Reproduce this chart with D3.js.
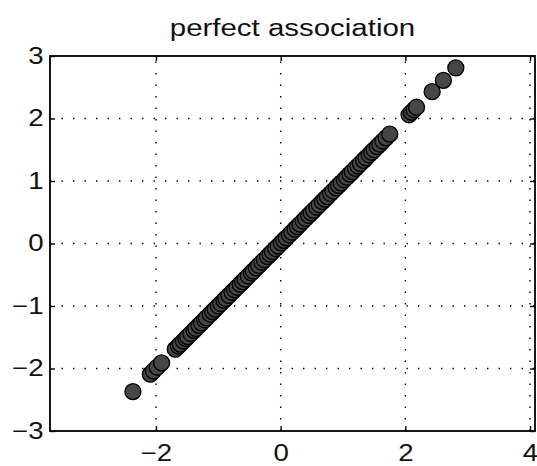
<!DOCTYPE html>
<html>
<head>
<meta charset="utf-8">
<script src="https://cdn.jsdelivr.net/npm/d3@7"></script>
<style>
  html, body { margin: 0; padding: 0; background: #fff; }
  svg { display: block; }
  text { font-family: "Liberation Sans", Arial, Helvetica, sans-serif; fill: #111; }
</style>
</head>
<body>
<svg id="chart" width="537" height="466"></svg>
<script>
// Paired observations: y tracks x exactly
const xValues = [
  -2.37, -2.09, -2.04, -1.98, -1.91,
  -1.69, -1.64, -1.61, -1.56, -1.52, -1.49, -1.44, -1.39, -1.36, -1.31,
  -1.27, -1.22, -1.19, -1.13, -1.09, -1.05, -1.00, -0.96, -0.91, -0.88,
  -0.83, -0.78, -0.74, -0.70, -0.65, -0.61, -0.57, -0.52, -0.47, -0.44,
  -0.39, -0.35, -0.30, -0.26, -0.21, -0.17, -0.13, -0.08, -0.04, 0.01,
  0.05, 0.09, 0.14, 0.18, 0.23, 0.27, 0.31, 0.36, 0.40, 0.45,
  0.49, 0.53, 0.58, 0.62, 0.67, 0.71, 0.75, 0.80, 0.84, 0.89,
  0.93, 0.97, 1.02, 1.06, 1.11, 1.15, 1.20, 1.24, 1.28, 1.33,
  1.37, 1.42, 1.46, 1.50, 1.55, 1.59, 1.64, 1.69, 1.75,
  2.06, 2.10, 2.14, 2.18, 2.43, 2.61, 2.81
];
const yValues = [
  -2.37, -2.09, -2.04, -1.98, -1.91,
  -1.69, -1.64, -1.61, -1.56, -1.52, -1.49, -1.44, -1.39, -1.36, -1.31,
  -1.27, -1.22, -1.19, -1.13, -1.09, -1.05, -1.00, -0.96, -0.91, -0.88,
  -0.83, -0.78, -0.74, -0.70, -0.65, -0.61, -0.57, -0.52, -0.47, -0.44,
  -0.39, -0.35, -0.30, -0.26, -0.21, -0.17, -0.13, -0.08, -0.04, 0.01,
  0.05, 0.09, 0.14, 0.18, 0.23, 0.27, 0.31, 0.36, 0.40, 0.45,
  0.49, 0.53, 0.58, 0.62, 0.67, 0.71, 0.75, 0.80, 0.84, 0.89,
  0.93, 0.97, 1.02, 1.06, 1.11, 1.15, 1.20, 1.24, 1.28, 1.33,
  1.37, 1.42, 1.46, 1.50, 1.55, 1.59, 1.64, 1.69, 1.75,
  2.06, 2.10, 2.14, 2.18, 2.43, 2.61, 2.81
];
const xTicks = [-2, 0, 2, 4];
const yTicks = [-3, -2, -1, 0, 1, 2, 3];
const xDomain = [-3.7, 4.08];
const yDomain = [-3, 3];
const title = "perfect association";

const svg = d3.select("#chart");
const plotLeft = 50, plotRight = 535, plotTop = 56, plotBottom = 431;
// lettering is drawn a little wider than the font's natural proportions
const tickStretch = 1.2;
const titleStretch = 1.28;

const x = d3.scaleLinear().domain(xDomain).range([plotLeft, plotRight]);
const y = d3.scaleLinear().domain(yDomain).range([plotBottom, plotTop]);

// dotted grid
const grid = svg.append("g")
  .attr("stroke", "#000")
  .attr("stroke-width", 1.4)
  .attr("stroke-dasharray", "1.4,10.1");
grid.selectAll("line.gx")
  .data(xTicks)
  .join("line")
  .attr("class", "gx")
  .attr("x1", d => x(d)).attr("x2", d => x(d))
  .attr("y1", plotBottom).attr("y2", plotTop);
grid.selectAll("line.gy")
  .data(yTicks.filter(d => d > yDomain[0] && d < yDomain[1]))
  .join("line")
  .attr("class", "gy")
  .attr("x1", plotLeft).attr("x2", plotRight)
  .attr("y1", d => y(d)).attr("y2", d => y(d));

// points
const pts = d3.zip(xValues, yValues);
svg.append("g")
  .selectAll("circle")
  .data(pts)
  .join("circle")
  .attr("cx", d => x(d[0]))
  .attr("cy", d => y(d[1]))
  .attr("r", 8)
  .attr("fill", "#464646")
  .attr("stroke", "#000")
  .attr("stroke-width", 1.3);

// axes with inward ticks
const fontSize = 23;
const minus = d => d < 0 ? "\u2212" + Math.abs(d) : String(d);
const xAxisB = svg.append("g")
  .attr("transform", `translate(0,${plotBottom})`)
  .call(d3.axisBottom(x).tickValues(xTicks).tickSize(-5).tickPadding(14).tickFormat(minus));
const xAxisT = svg.append("g")
  .attr("transform", `translate(0,${plotTop})`)
  .call(d3.axisTop(x).tickValues(xTicks).tickSize(-5).tickFormat(""));
const yAxisL = svg.append("g")
  .attr("transform", `translate(${plotLeft},0)`)
  .call(d3.axisLeft(y).tickValues(yTicks).tickSize(-5).tickPadding(6.5).tickFormat(minus));
const yAxisR = svg.append("g")
  .attr("transform", `translate(${plotRight},0)`)
  .call(d3.axisRight(y).tickValues(yTicks).tickSize(-5).tickFormat(""));

[xAxisB, xAxisT, yAxisL, yAxisR].forEach(g => {
  g.select(".domain").remove();
  g.selectAll(".tick line").attr("stroke", "#000").attr("stroke-width", 1.4);
  g.selectAll("text")
    .attr("font-size", fontSize + "px")
    .attr("font-family", "\"Liberation Sans\", Arial, sans-serif")
    .attr("fill", "#111")
    .attr("x", function() { return (+d3.select(this).attr("x") || 0) / tickStretch; })
    .attr("transform", `scale(${tickStretch},1)`);
});

// frame
svg.append("rect")
  .attr("x", plotLeft).attr("y", plotTop)
  .attr("width", plotRight - plotLeft).attr("height", plotBottom - plotTop)
  .attr("fill", "none")
  .attr("stroke", "#000")
  .attr("stroke-width", 1.8);

// title
svg.append("text")
  .attr("x", (plotLeft + plotRight) / 2 / titleStretch)
  .attr("y", 36)
  .attr("transform", `scale(${titleStretch},1)`)
  .attr("text-anchor", "middle")
  .attr("font-size", "23px")
  .text(title);
</script>
</body>
</html>
